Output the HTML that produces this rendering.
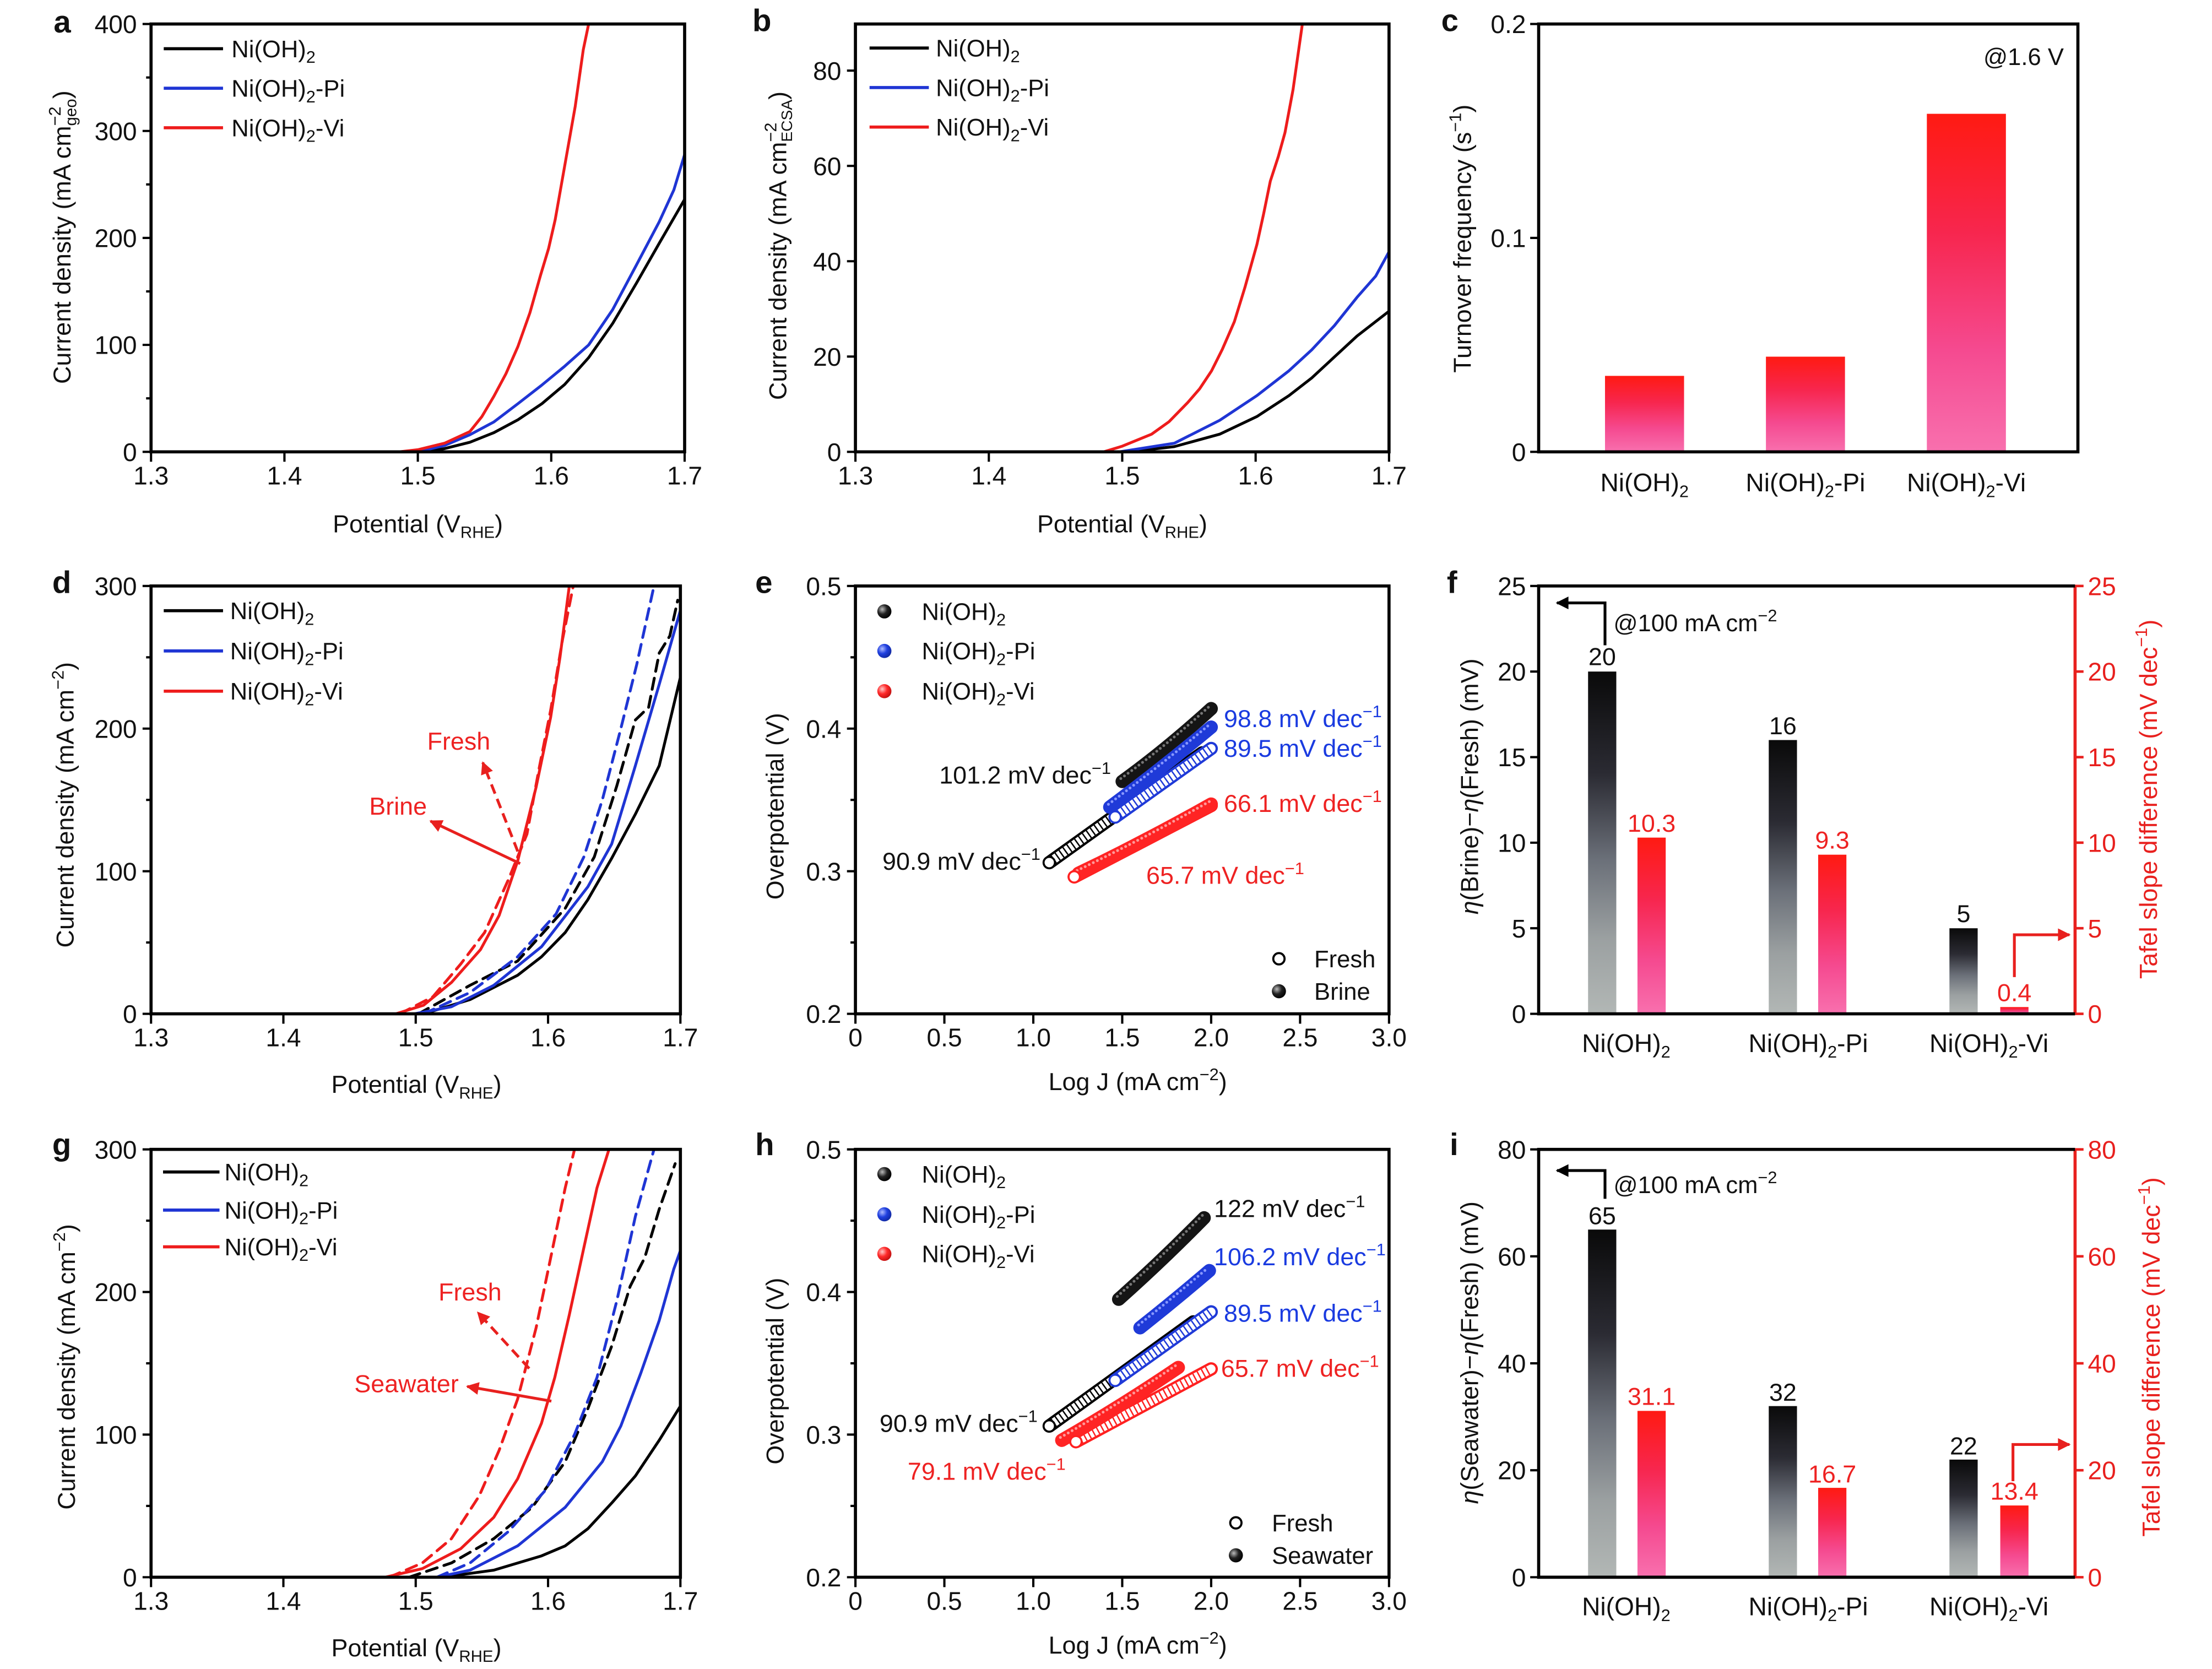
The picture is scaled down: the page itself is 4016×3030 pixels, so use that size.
<!DOCTYPE html>
<html><head><meta charset="utf-8">
<style>
html,body{margin:0;padding:0;background:#fff;}
svg{display:block;}
text{font-family:"Liberation Sans",Arial,sans-serif;fill:#111;}
.tk{font-size:18px;}
.tl{font-size:17.5px;}
.lb{font-size:22px;font-weight:bold;}
.lg{font-size:17px;}
.an{font-size:17.5px;}
.ax{fill:none;stroke:#000;stroke-width:2.2;}
.tm{stroke:#000;stroke-width:1.6;fill:none;}
.cv{fill:none;stroke-width:2;stroke-linejoin:round;stroke-linecap:round;}
.ds{stroke-dasharray:8 5;}
</style></head><body>
<svg xmlns="http://www.w3.org/2000/svg" width="4016" height="3030" viewBox="0 0 1567 1182" preserveAspectRatio="none">
<defs>
<linearGradient id="gr" x1="0" y1="0" x2="0" y2="1">
<stop offset="0" stop-color="#ff1a12"/><stop offset="0.35" stop-color="#f7264e"/><stop offset="0.7" stop-color="#f54a90"/><stop offset="1" stop-color="#f870ae"/>
</linearGradient>
<linearGradient id="gk" x1="0" y1="0" x2="0" y2="1">
<stop offset="0" stop-color="#0a0a0a"/><stop offset="0.3" stop-color="#2b2b33"/><stop offset="0.55" stop-color="#6b7079"/><stop offset="0.78" stop-color="#9ba0a1"/><stop offset="1" stop-color="#b2b7b5"/>
</linearGradient>
<radialGradient id="sk" cx="0.35" cy="0.35" r="0.7"><stop offset="0" stop-color="#bbb"/><stop offset="0.5" stop-color="#222"/><stop offset="1" stop-color="#000"/></radialGradient>
<radialGradient id="sb" cx="0.35" cy="0.35" r="0.7"><stop offset="0" stop-color="#b0bcff"/><stop offset="0.5" stop-color="#2040e0"/><stop offset="1" stop-color="#1028a0"/></radialGradient>
<radialGradient id="sr" cx="0.35" cy="0.35" r="0.7"><stop offset="0" stop-color="#ffc8c8"/><stop offset="0.5" stop-color="#ff2a2a"/><stop offset="1" stop-color="#c01010"/></radialGradient>
<marker id="mr" viewBox="0 0 10 10" refX="9" refY="5" markerUnits="userSpaceOnUse" markerWidth="11" markerHeight="9" orient="auto"><path d="M0 0L10 5L0 10z" fill="#e8201e"/></marker>
<marker id="mk" viewBox="0 0 10 10" refX="9" refY="5" markerUnits="userSpaceOnUse" markerWidth="11" markerHeight="9" orient="auto"><path d="M0 0L10 5L0 10z" fill="#000"/></marker>
</defs>

<!-- ================= Panel a ================= -->
<text class="lb" x="38" y="23">a</text>
<polyline class="cv" stroke="#000" points="299.8,320 314.9,317.7 332.9,313.2 349.9,306.4 366.9,297.3 383.9,285.9 400,272.3 417,253.3 434,229.1 451,200.3 467,172.3 485,141.2"/>
<polyline class="cv" stroke="#1f35d4" points="296,320 314.9,315.5 332.9,307.9 349.9,298.8 366.9,285.9 383.5,273 400,259.4 417,244.3 434,219.3 451,187.4 467,157.1 477.4,134.4 485,109.4"/>
<polyline class="cv" stroke="#ee1c1c" points="282.8,320 296,318.5 314.9,313.9 332.9,305.6 341.4,295 349.9,280.6 358.4,264.7 366.9,245.4 375.4,221.5 382.9,195 388.6,176.1 393.3,155.6 400,117.7 407.5,75.3 413.2,35.2 417,17"/>
<rect class="ax" x="107" y="17" width="378" height="303"/>
<path class="tm" d="M107 320v7M201.5 320v7M296 320v7M390.5 320v7M485 320v7M107 320h-6M107 244.25h-6M107 168.5h-6M107 92.75h-6M107 17h-6M107 282.1h-3.5M107 206.4h-3.5M107 130.6h-3.5M107 54.9h-3.5"/>
<g class="tk" text-anchor="end"><text x="97" y="326.5">0</text><text x="97" y="250.7">100</text><text x="97" y="175">200</text><text x="97" y="99.2">300</text><text x="97" y="23.5">400</text></g>
<g class="tk" text-anchor="middle"><text x="107" y="343">1.3</text><text x="201.5" y="343">1.4</text><text x="296" y="343">1.5</text><text x="390.5" y="343">1.6</text><text x="485" y="343">1.7</text></g>
<text class="tl" x="296" y="377" text-anchor="middle">Potential (V<tspan font-size="11.5" dy="4">RHE</tspan><tspan dy="-4">)</tspan></text>
<text class="tl" transform="translate(50,168) rotate(-90)" text-anchor="middle">Current density (mA cm<tspan font-size="12" dy="-7">−2</tspan><tspan font-size="11.5" dx="-13.7" dy="11">geo</tspan><tspan dy="-4">)</tspan></text>
<path d="M116 34.5h42" stroke="#000" stroke-width="2.2"/><path d="M116 62.5h42" stroke="#1f35d4" stroke-width="2.2"/><path d="M116 90.5h42" stroke="#ee1c1c" stroke-width="2.2"/>
<g class="lg"><text x="164" y="40.5">Ni(OH)<tspan font-size="12" dy="4">2</tspan></text><text x="164" y="68.5">Ni(OH)<tspan font-size="12" dy="4">2</tspan><tspan dy="-4">-Pi</tspan></text><text x="164" y="96.5">Ni(OH)<tspan font-size="12" dy="4">2</tspan><tspan dy="-4">-Vi</tspan></text></g>

<!-- ================= Panel b ================= -->
<text class="lb" x="533" y="22">b</text>
<polyline class="cv" stroke="#000" points="799.7,320 831.9,316.3 864,307.5 890.4,295 913.1,280.2 929.2,267.7 945.3,252.8 961.3,238 984,220.4"/>
<polyline class="cv" stroke="#1f35d4" points="793.1,320 831.9,313.9 864,297.7 890.4,280.2 913.1,262.6 929.2,247.8 945.3,230.6 961.3,210.6 974.6,195.5 984,178.3"/>
<polyline class="cv" stroke="#ee1c1c" points="781.8,320 795,316 815.8,307.5 828.1,298.7 841.3,285.2 849.8,275.4 858.3,262.6 865.9,247.4 874.4,227.9 881.9,203.6 890.4,173.2 895.2,151.3 899.9,128.3 905.6,110.8 910.3,93.9 916,63.5 922.6,17"/>
<rect class="ax" x="606" y="17" width="378" height="303"/>
<path class="tm" d="M606 320v7M700.5 320v7M795 320v7M889.5 320v7M984 320v7M606 320h-6M606 252.5h-6M606 185h-6M606 117.5h-6M606 50h-6"/>
<g class="tk" text-anchor="end"><text x="596" y="326.5">0</text><text x="596" y="259">20</text><text x="596" y="191.5">40</text><text x="596" y="124">60</text><text x="596" y="56.5">80</text></g>
<g class="tk" text-anchor="middle"><text x="606" y="343">1.3</text><text x="700.5" y="343">1.4</text><text x="795" y="343">1.5</text><text x="889.5" y="343">1.6</text><text x="984" y="343">1.7</text></g>
<text class="tl" x="795" y="377" text-anchor="middle">Potential (V<tspan font-size="11.5" dy="4">RHE</tspan><tspan dy="-4">)</tspan></text>
<text class="tl" transform="translate(557,174) rotate(-90)" text-anchor="middle">Current density (mA cm<tspan font-size="12" dy="-7">−2</tspan><tspan font-size="11" dx="-13.7" dy="11">ECSA</tspan><tspan dy="-4">)</tspan></text>
<path d="M616 34h42" stroke="#000" stroke-width="2.2"/><path d="M616 62h42" stroke="#1f35d4" stroke-width="2.2"/><path d="M616 90h42" stroke="#ee1c1c" stroke-width="2.2"/>
<g class="lg"><text x="663" y="40">Ni(OH)<tspan font-size="12" dy="4">2</tspan></text><text x="663" y="68">Ni(OH)<tspan font-size="12" dy="4">2</tspan><tspan dy="-4">-Pi</tspan></text><text x="663" y="96">Ni(OH)<tspan font-size="12" dy="4">2</tspan><tspan dy="-4">-Vi</tspan></text></g>

<!-- ================= Panel c ================= -->
<text class="lb" x="1021" y="22">c</text>
<rect x="1137" y="266.2" width="56" height="53.8" fill="url(#gr)"/>
<rect x="1251" y="252.6" width="56" height="67.4" fill="url(#gr)"/>
<rect x="1365" y="80.6" width="56" height="239.4" fill="url(#gr)"/>
<rect class="ax" x="1090" y="17" width="382" height="303"/>
<path class="tm" d="M1090 320h-6M1090 168.5h-6M1090 17h-6"/>
<g class="tk" text-anchor="end"><text x="1081" y="326.5">0</text><text x="1081" y="175">0.1</text><text x="1081" y="23.5">0.2</text></g>
<g class="tk" text-anchor="middle"><text x="1165" y="348">Ni(OH)<tspan font-size="12" dy="4">2</tspan></text><text x="1279" y="348">Ni(OH)<tspan font-size="12" dy="4">2</tspan><tspan dy="-4">-Pi</tspan></text><text x="1393" y="348">Ni(OH)<tspan font-size="12" dy="4">2</tspan><tspan dy="-4">-Vi</tspan></text></g>
<text class="lg" x="1462" y="46" text-anchor="end">@1.6 V</text>
<text class="tl" transform="translate(1042,169) rotate(-90)" text-anchor="middle">Turnover frequency (s<tspan font-size="12" dy="-7">−1</tspan><tspan dy="7">)</tspan></text>

<!-- ================= Panel d ================= -->
<text class="lb" x="37" y="420">d</text>
<polyline class="cv ds" stroke="#000" points="296.4,718 333,697.8 366.7,680.6 400.4,643.3 421,606.9 437,556.4 450.1,509.9 459.5,500.9 467,462.5 474.5,450.4 480.1,425.1"/>
<polyline class="cv ds" stroke="#1f35d4" points="300.1,718 333,702.9 366.7,677.6 393.9,647.3 413.6,606.9 426.7,566.5 439.8,516 451.1,470.5 463.3,415"/>
<polyline class="cv" stroke="#000" points="300.1,718 333,707.9 366.7,690.7 383.6,677.6 400.4,660.4 416.4,637.2 433.3,607.9 450.1,576.6 467,542.3 474.5,511 482,479.6"/>
<polyline class="cv" stroke="#1f35d4" points="293.6,718 319.8,713 349.8,697.8 383.6,670.5 416.4,628.1 433.3,597.8 450.1,542.3 467,484.7 482,432.2"/>
<polyline class="cv ds" stroke="#ee1c1c" points="283.3,718 306.7,705.9 326.4,682.7 343.3,660.4 360.1,623.1 373.3,590.7 381.7,545.3 390.1,502.9 398.6,452.4 406.1,415"/>
<polyline class="cv" stroke="#ee1c1c" points="280.4,718 300.1,711.9 319.8,695.8 340.4,672.5 353.6,648.3 366.7,609.9 379.8,557.4 390.1,507.9 396.7,465.5 403.3,415"/>
<path d="M366.8 603L342 540" stroke="#e8201e" stroke-width="2" stroke-dasharray="7 4" fill="none" marker-end="url(#mr)"/>
<path d="M368.5 611.6L305 581.5" stroke="#e8201e" stroke-width="2" fill="none" marker-end="url(#mr)"/>
<text class="an" x="325" y="531" text-anchor="middle" style="fill:#ee2222">Fresh</text>
<text class="an" x="282" y="577" text-anchor="middle" style="fill:#ee2222">Brine</text>
<rect class="ax" x="107" y="415" width="375" height="303"/>
<path class="tm" d="M107 718v7M200.75 718v7M294.5 718v7M388.25 718v7M482 718v7M107 718h-6M107 617h-6M107 516h-6M107 415h-6M107 667.5h-3.5M107 566.5h-3.5M107 465.5h-3.5"/>
<g class="tk" text-anchor="end"><text x="97" y="724.5">0</text><text x="97" y="623.5">100</text><text x="97" y="522.5">200</text><text x="97" y="421.5">300</text></g>
<g class="tk" text-anchor="middle"><text x="107" y="741">1.3</text><text x="200.75" y="741">1.4</text><text x="294.5" y="741">1.5</text><text x="388.25" y="741">1.6</text><text x="482" y="741">1.7</text></g>
<text class="tl" x="295" y="774" text-anchor="middle">Potential (V<tspan font-size="11.5" dy="4">RHE</tspan><tspan dy="-4">)</tspan></text>
<text class="tl" transform="translate(52,570) rotate(-90)" text-anchor="middle">Current density (mA cm<tspan font-size="12" dy="-7">−2</tspan><tspan dy="7">)</tspan></text>
<path d="M116 432.5h42" stroke="#000" stroke-width="2.2"/><path d="M116 461h42" stroke="#1f35d4" stroke-width="2.2"/><path d="M116 489.5h42" stroke="#ee1c1c" stroke-width="2.2"/>
<g class="lg"><text x="163" y="438.5">Ni(OH)<tspan font-size="12" dy="4">2</tspan></text><text x="163" y="467">Ni(OH)<tspan font-size="12" dy="4">2</tspan><tspan dy="-4">-Pi</tspan></text><text x="163" y="495.5">Ni(OH)<tspan font-size="12" dy="4">2</tspan><tspan dy="-4">-Vi</tspan></text></g>

<!-- ================= Panel e ================= -->
<text class="lb" x="535" y="420">e</text>
<g fill="none" stroke-linecap="round">
<path d="M743.3 610.9L851.7 533.2" stroke="#000" stroke-width="9.5"/>
<path d="M743.3 610.9L851.7 533.2" stroke="#fff" stroke-width="6.2"/>
<path d="M743.3 610.9L851.7 533.2" stroke="#000" stroke-width="6.2" stroke-linecap="butt" stroke-dasharray="1 2.4"/>
<path d="M795 553.4Q826 531 858 501.9" stroke="#151515" stroke-width="9.5"/>
<path d="M794 551.4Q825 529 857 500" stroke="#777" stroke-width="2" stroke-dasharray="0 3.2"/>
<path d="M786.2 571.6Q822 545 858 515" stroke="#1f3ad8" stroke-width="9.5"/>
<path d="M785.2 569.6Q821 543 857 513" stroke="#8898ff" stroke-width="2" stroke-dasharray="0 3.2"/>
<path d="M790 578.6L858 530.1" stroke="#1f3ad8" stroke-width="9.5"/>
<path d="M790 578.6L858 530.1" stroke="#fff" stroke-width="6.2"/>
<path d="M790 578.6L858 530.1" stroke="#1f3ad8" stroke-width="6.2" stroke-linecap="butt" stroke-dasharray="1 2.4"/>
<path d="M761 621L858 570.5" stroke="#ff2020" stroke-width="9.5"/>
<path d="M761 621L858 570.5" stroke="#fff" stroke-width="6.2"/>
<path d="M764 618.5Q811 596 858 569.5" stroke="#ff2424" stroke-width="9.5"/>
<path d="M763 616.5Q810 594 857 567.5" stroke="#ff9a9a" stroke-width="2" stroke-dasharray="0 3.2"/>
</g>
<circle cx="743.3" cy="610.9" r="4" fill="#fff" stroke="#000" stroke-width="1.4"/>
<circle cx="790" cy="578.6" r="4" fill="#fff" stroke="#1f3ad8" stroke-width="1.4"/>
<circle cx="761" cy="621" r="4" fill="#fff" stroke="#ff2020" stroke-width="1.4"/>
<rect class="ax" x="606" y="415" width="378" height="303"/>
<path class="tm" d="M606 718v7M669 718v7M732 718v7M795 718v7M858 718v7M921 718v7M984 718v7M606 718h-6M606 617h-6M606 516h-6M606 415h-6M606 667.5h-3.5M606 566.5h-3.5M606 465.5h-3.5"/>
<g class="tk" text-anchor="end"><text x="596" y="724.5">0.2</text><text x="596" y="623.5">0.3</text><text x="596" y="522.5">0.4</text><text x="596" y="421.5">0.5</text></g>
<g class="tk" text-anchor="middle"><text x="606" y="741">0</text><text x="669" y="741">0.5</text><text x="732" y="741">1.0</text><text x="795" y="741">1.5</text><text x="858" y="741">2.0</text><text x="921" y="741">2.5</text><text x="984" y="741">3.0</text></g>
<text class="tl" x="806" y="772" text-anchor="middle">Log J (mA cm<tspan font-size="12" dy="-7">−2</tspan><tspan dy="7">)</tspan></text>
<text class="tl" transform="translate(555,571) rotate(-90)" text-anchor="middle">Overpotential (V)</text>
<circle cx="626.5" cy="433" r="5" fill="url(#sk)"/><circle cx="626.5" cy="461" r="5" fill="url(#sb)"/><circle cx="626.5" cy="489.5" r="5" fill="url(#sr)"/>
<g class="lg"><text x="653" y="439">Ni(OH)<tspan font-size="12" dy="4">2</tspan></text><text x="653" y="467">Ni(OH)<tspan font-size="12" dy="4">2</tspan><tspan dy="-4">-Pi</tspan></text><text x="653" y="495.5">Ni(OH)<tspan font-size="12" dy="4">2</tspan><tspan dy="-4">-Vi</tspan></text></g>
<circle cx="906" cy="679" r="4" fill="#fff" stroke="#000" stroke-width="1.5"/><circle cx="906" cy="702" r="5" fill="url(#sk)"/>
<g class="lg"><text x="931" y="685">Fresh</text><text x="931" y="708">Brine</text></g>
<g class="an">
<text x="867" y="515" style="fill:#1a3be0">98.8 mV dec<tspan font-size="12" dy="-7">−1</tspan></text>
<text x="867" y="536" style="fill:#1a3be0">89.5 mV dec<tspan font-size="12" dy="-7">−1</tspan></text>
<text x="787" y="555" text-anchor="end">101.2 mV dec<tspan font-size="12" dy="-7">−1</tspan></text>
<text x="867" y="575" style="fill:#ee2222">66.1 mV dec<tspan font-size="12" dy="-7">−1</tspan></text>
<text x="737" y="616" text-anchor="end">90.9 mV dec<tspan font-size="12" dy="-7">−1</tspan></text>
<text x="812" y="626" style="fill:#ee2222">65.7 mV dec<tspan font-size="12" dy="-7">−1</tspan></text>
</g>

<!-- ================= Panel f ================= -->
<text class="lb" x="1025" y="420">f</text>
<rect x="1125" y="475.6" width="20" height="242.4" fill="url(#gk)"/>
<rect x="1253" y="524.1" width="20" height="193.9" fill="url(#gk)"/>
<rect x="1381" y="657.4" width="20" height="60.6" fill="url(#gk)"/>
<rect x="1160" y="593.2" width="20" height="124.8" fill="url(#gr)"/>
<rect x="1288" y="605.3" width="20" height="112.7" fill="url(#gr)"/>
<rect x="1417" y="713.2" width="20" height="4.8" fill="url(#gr)"/>
<path d="M1470 415V718" stroke="#e8201e" stroke-width="2.2" fill="none"/>
<path d="M1470 415H1090V718H1470" class="ax"/>
<path class="tm" d="M1090 718h-6M1090 657.4h-6M1090 596.8h-6M1090 536.2h-6M1090 475.6h-6M1090 415h-6"/>
<path d="M1470 718h6M1470 657.4h6M1470 596.8h6M1470 536.2h6M1470 475.6h6M1470 415h6" stroke="#e8201e" stroke-width="1.8"/>
<g class="tk" text-anchor="end"><text x="1081" y="724.5">0</text><text x="1081" y="664">5</text><text x="1081" y="603.3">10</text><text x="1081" y="542.7">15</text><text x="1081" y="482">20</text><text x="1081" y="421.5">25</text></g>
<g class="tk"><text x="1479" y="724.5" style="fill:#e8201e">0</text><text x="1479" y="664" style="fill:#e8201e">5</text><text x="1479" y="603.3" style="fill:#e8201e">10</text><text x="1479" y="542.7" style="fill:#e8201e">15</text><text x="1479" y="482" style="fill:#e8201e">20</text><text x="1479" y="421.5" style="fill:#e8201e">25</text></g>
<g class="tk" text-anchor="middle"><text x="1152" y="745">Ni(OH)<tspan font-size="12" dy="4">2</tspan></text><text x="1281" y="745">Ni(OH)<tspan font-size="12" dy="4">2</tspan><tspan dy="-4">-Pi</tspan></text><text x="1409" y="745">Ni(OH)<tspan font-size="12" dy="4">2</tspan><tspan dy="-4">-Vi</tspan></text></g>
<g class="an" text-anchor="middle"><text x="1135" y="471">20</text><text x="1263" y="520">16</text><text x="1391" y="653">5</text>
<text x="1170" y="589" style="fill:#ee2222">10.3</text><text x="1298" y="601" style="fill:#ee2222">9.3</text><text x="1427" y="709" style="fill:#ee2222">0.4</text></g>
<path d="M1137 457V427H1103" stroke="#000" stroke-width="2" fill="none" marker-end="url(#mk)"/>
<path d="M1427 692V662H1466" stroke="#e8201e" stroke-width="2" fill="none" marker-end="url(#mr)"/>
<text class="lg" x="1143" y="447">@100 mA cm<tspan font-size="12" dy="-7">−2</tspan></text>
<text class="tl" transform="translate(1047,557) rotate(-90)" text-anchor="middle"><tspan font-style="italic">η</tspan>(Brine)−<tspan font-style="italic">η</tspan>(Fresh) (mV)</text>
<text class="tl" transform="translate(1528,566) rotate(-90)" text-anchor="middle" style="fill:#e8201e">Tafel slope difference (mV dec<tspan font-size="12" dy="-7">−1</tspan><tspan dy="7">)</tspan></text>

<!-- ================= Panel g ================= -->
<text class="lb" x="37" y="818">g</text>
<polyline class="cv ds" stroke="#000" points="289.8,1117 319.8,1106.9 349.8,1089.7 377,1067.5 400.4,1035.2 416.4,997.8 433.3,953.4 446.4,911 456.7,890.8 467,856.4 478.3,824.1"/>
<polyline class="cv ds" stroke="#1f35d4" points="309.5,1117 333,1106.9 360.1,1084.7 386.4,1055.4 407,1016 422.9,975.6 437,921.1 450.1,861.5 463.3,814"/>
<polyline class="cv" stroke="#000" points="313.3,1117 349.8,1112 383.6,1101.9 400.4,1094.8 416.4,1082.7 433.3,1064.5 450.1,1045.3 467,1020 482,995.8"/>
<polyline class="cv" stroke="#1f35d4" points="309.5,1117 333,1112 366.7,1094.8 400.4,1067.5 426.7,1035.2 439.8,1009.9 453.9,972.6 467,935.2 477.3,898.8 482,885.7"/>
<polyline class="cv ds" stroke="#ee1c1c" points="275.8,1117 299.2,1106.9 319.8,1089.7 339.5,1059.4 353.6,1027.1 366.7,990.8 379.8,940.3 390.1,890.8 400.4,841.3 407,814"/>
<polyline class="cv" stroke="#ee1c1c" points="272.9,1117 299.2,1110.9 326.4,1096.8 349.8,1074.6 366.7,1047.3 383.6,1007.9 393,975.6 403.3,931.2 413.6,883.7 422.9,841.3 431.4,814"/>
<path d="M374.9 969.2L338.5 929.5" stroke="#e8201e" stroke-width="2" stroke-dasharray="7 4" fill="none" marker-end="url(#mr)"/>
<path d="M390.6 992.3L331 981.9" stroke="#e8201e" stroke-width="2" fill="none" marker-end="url(#mr)"/>
<text class="an" x="333" y="921" text-anchor="middle" style="fill:#ee2222">Fresh</text>
<text class="an" x="288" y="986" text-anchor="middle" style="fill:#ee2222">Seawater</text>
<rect class="ax" x="107" y="814" width="375" height="303"/>
<path class="tm" d="M107 1117v7M200.75 1117v7M294.5 1117v7M388.25 1117v7M482 1117v7M107 1117h-6M107 1016h-6M107 915h-6M107 814h-6M107 1066.5h-3.5M107 965.5h-3.5M107 864.5h-3.5"/>
<g class="tk" text-anchor="end"><text x="97" y="1123.5">0</text><text x="97" y="1022.5">100</text><text x="97" y="921.5">200</text><text x="97" y="820.5">300</text></g>
<g class="tk" text-anchor="middle"><text x="107" y="1140">1.3</text><text x="200.75" y="1140">1.4</text><text x="294.5" y="1140">1.5</text><text x="388.25" y="1140">1.6</text><text x="482" y="1140">1.7</text></g>
<text class="tl" x="295" y="1173" text-anchor="middle">Potential (V<tspan font-size="11.5" dy="4">RHE</tspan><tspan dy="-4">)</tspan></text>
<text class="tl" transform="translate(53,968) rotate(-90)" text-anchor="middle">Current density (mA cm<tspan font-size="12" dy="-7">−2</tspan><tspan dy="7">)</tspan></text>
<path d="M115.5 830h40" stroke="#000" stroke-width="2.2"/><path d="M115.5 857h40" stroke="#1f35d4" stroke-width="2.2"/><path d="M115.5 883h40" stroke="#ee1c1c" stroke-width="2.2"/>
<g class="lg"><text x="159" y="836">Ni(OH)<tspan font-size="12" dy="4">2</tspan></text><text x="159" y="863">Ni(OH)<tspan font-size="12" dy="4">2</tspan><tspan dy="-4">-Pi</tspan></text><text x="159" y="889">Ni(OH)<tspan font-size="12" dy="4">2</tspan><tspan dy="-4">-Vi</tspan></text></g>

<!-- ================= Panel h ================= -->
<text class="lb" x="535" y="818">h</text>
<g fill="none" stroke-linecap="round">
<path d="M743.3 1009.9L845.4 936.2" stroke="#000" stroke-width="9.5"/>
<path d="M743.3 1009.9L845.4 936.2" stroke="#fff" stroke-width="6.2"/>
<path d="M743.3 1009.9L845.4 936.2" stroke="#000" stroke-width="6.2" stroke-linecap="butt" stroke-dasharray="1 2.4"/>
<path d="M792.5 920.1Q823 893 853 862.5" stroke="#151515" stroke-width="9.5"/>
<path d="M791.5 918.1Q822 891 852 860.5" stroke="#777" stroke-width="2" stroke-dasharray="0 3.2"/>
<path d="M807.6 940.3Q832 921 856.7 899.9" stroke="#1f3ad8" stroke-width="9.5"/>
<path d="M806.6 938.3Q831 919 855.7 897.9" stroke="#8898ff" stroke-width="2" stroke-dasharray="0 3.2"/>
<path d="M790 977.6L858 929.1" stroke="#1f3ad8" stroke-width="9.5"/>
<path d="M790 977.6L858 929.1" stroke="#fff" stroke-width="6.2"/>
<path d="M790 977.6L858 929.1" stroke="#1f3ad8" stroke-width="6.2" stroke-linecap="butt" stroke-dasharray="1 2.4"/>
<path d="M762.2 1021L858 969.5" stroke="#ff2020" stroke-width="9.5"/>
<path d="M762.2 1021L858 969.5" stroke="#fff" stroke-width="6.2"/>
<path d="M762.2 1021L858 969.5" stroke="#ff2020" stroke-width="6.2" stroke-linecap="butt" stroke-dasharray="1 2.4"/>
<path d="M752.2 1020Q794 996 834.7 968.5" stroke="#ff2424" stroke-width="9.5"/>
<path d="M751.2 1018Q793 994 833.7 966.5" stroke="#ff9a9a" stroke-width="2" stroke-dasharray="0 3.2"/>
</g>
<circle cx="743.3" cy="1009.9" r="4" fill="#fff" stroke="#000" stroke-width="1.4"/>
<circle cx="790" cy="977.6" r="4" fill="#fff" stroke="#1f3ad8" stroke-width="1.4"/>
<circle cx="762.2" cy="1021" r="4" fill="#fff" stroke="#ff2020" stroke-width="1.4"/>
<rect class="ax" x="606" y="814" width="378" height="303"/>
<path class="tm" d="M606 1117v7M669 1117v7M732 1117v7M795 1117v7M858 1117v7M921 1117v7M984 1117v7M606 1117h-6M606 1016h-6M606 915h-6M606 814h-6M606 1066.5h-3.5M606 965.5h-3.5M606 864.5h-3.5"/>
<g class="tk" text-anchor="end"><text x="596" y="1123.5">0.2</text><text x="596" y="1022.5">0.3</text><text x="596" y="921.5">0.4</text><text x="596" y="820.5">0.5</text></g>
<g class="tk" text-anchor="middle"><text x="606" y="1140">0</text><text x="669" y="1140">0.5</text><text x="732" y="1140">1.0</text><text x="795" y="1140">1.5</text><text x="858" y="1140">2.0</text><text x="921" y="1140">2.5</text><text x="984" y="1140">3.0</text></g>
<text class="tl" x="806" y="1171" text-anchor="middle">Log J (mA cm<tspan font-size="12" dy="-7">−2</tspan><tspan dy="7">)</tspan></text>
<text class="tl" transform="translate(555,971) rotate(-90)" text-anchor="middle">Overpotential (V)</text>
<circle cx="626.5" cy="831.5" r="5" fill="url(#sk)"/><circle cx="626.5" cy="860" r="5" fill="url(#sb)"/><circle cx="626.5" cy="888" r="5" fill="url(#sr)"/>
<g class="lg"><text x="653" y="837.5">Ni(OH)<tspan font-size="12" dy="4">2</tspan></text><text x="653" y="866">Ni(OH)<tspan font-size="12" dy="4">2</tspan><tspan dy="-4">-Pi</tspan></text><text x="653" y="894">Ni(OH)<tspan font-size="12" dy="4">2</tspan><tspan dy="-4">-Vi</tspan></text></g>
<circle cx="875.5" cy="1078.5" r="4" fill="#fff" stroke="#000" stroke-width="1.5"/><circle cx="875.5" cy="1101.5" r="5" fill="url(#sk)"/>
<g class="lg"><text x="901" y="1084.5">Fresh</text><text x="901" y="1107.5">Seawater</text></g>
<g class="an">
<text x="860" y="862">122 mV dec<tspan font-size="12" dy="-7">−1</tspan></text>
<text x="860" y="896" style="fill:#1a3be0">106.2 mV dec<tspan font-size="12" dy="-7">−1</tspan></text>
<text x="867" y="936" style="fill:#1a3be0">89.5 mV dec<tspan font-size="12" dy="-7">−1</tspan></text>
<text x="865" y="975" style="fill:#ee2222">65.7 mV dec<tspan font-size="12" dy="-7">−1</tspan></text>
<text x="735" y="1014" text-anchor="end">90.9 mV dec<tspan font-size="12" dy="-7">−1</tspan></text>
<text x="643" y="1048" style="fill:#ee2222">79.1 mV dec<tspan font-size="12" dy="-7">−1</tspan></text>
</g>

<!-- ================= Panel i ================= -->
<text class="lb" x="1027" y="818">i</text>
<rect x="1125" y="870.8" width="20" height="246.2" fill="url(#gk)"/>
<rect x="1253" y="995.8" width="20" height="121.2" fill="url(#gk)"/>
<rect x="1381" y="1033.7" width="20" height="83.3" fill="url(#gk)"/>
<rect x="1160" y="999.2" width="20" height="117.8" fill="url(#gr)"/>
<rect x="1288" y="1053.7" width="20" height="63.3" fill="url(#gr)"/>
<rect x="1417" y="1066.2" width="20" height="50.8" fill="url(#gr)"/>
<path d="M1470 814V1117" stroke="#e8201e" stroke-width="2.2" fill="none"/>
<path d="M1470 814H1090V1117H1470" class="ax"/>
<path class="tm" d="M1090 1117h-6M1090 1041.25h-6M1090 965.5h-6M1090 889.75h-6M1090 814h-6"/>
<path d="M1470 1117h6M1470 1041.25h6M1470 965.5h6M1470 889.75h6M1470 814h6" stroke="#e8201e" stroke-width="1.8"/>
<g class="tk" text-anchor="end"><text x="1081" y="1123.5">0</text><text x="1081" y="1047.7">20</text><text x="1081" y="972">40</text><text x="1081" y="896.2">60</text><text x="1081" y="820.5">80</text></g>
<g class="tk"><text x="1479" y="1123.5" style="fill:#e8201e">0</text><text x="1479" y="1047.7" style="fill:#e8201e">20</text><text x="1479" y="972" style="fill:#e8201e">40</text><text x="1479" y="896.2" style="fill:#e8201e">60</text><text x="1479" y="820.5" style="fill:#e8201e">80</text></g>
<g class="tk" text-anchor="middle"><text x="1152" y="1144">Ni(OH)<tspan font-size="12" dy="4">2</tspan></text><text x="1281" y="1144">Ni(OH)<tspan font-size="12" dy="4">2</tspan><tspan dy="-4">-Pi</tspan></text><text x="1409" y="1144">Ni(OH)<tspan font-size="12" dy="4">2</tspan><tspan dy="-4">-Vi</tspan></text></g>
<g class="an" text-anchor="middle"><text x="1135" y="867">65</text><text x="1263" y="992">32</text><text x="1391" y="1030">22</text>
<text x="1170" y="995" style="fill:#ee2222">31.1</text><text x="1298" y="1050" style="fill:#ee2222">16.7</text><text x="1427" y="1062" style="fill:#ee2222">13.4</text></g>
<path d="M1137 849V829H1103" stroke="#000" stroke-width="2" fill="none" marker-end="url(#mk)"/>
<path d="M1426 1049V1023H1466" stroke="#e8201e" stroke-width="2" fill="none" marker-end="url(#mr)"/>
<text class="lg" x="1143" y="845">@100 mA cm<tspan font-size="12" dy="-7">−2</tspan></text>
<text class="tl" transform="translate(1047,958) rotate(-90)" text-anchor="middle"><tspan font-style="italic">η</tspan>(Seawater)−<tspan font-style="italic">η</tspan>(Fresh) (mV)</text>
<text class="tl" transform="translate(1530,961) rotate(-90)" text-anchor="middle" style="fill:#e8201e">Tafel slope difference (mV dec<tspan font-size="12" dy="-7">−1</tspan><tspan dy="7">)</tspan></text>
</svg>
</body></html>
